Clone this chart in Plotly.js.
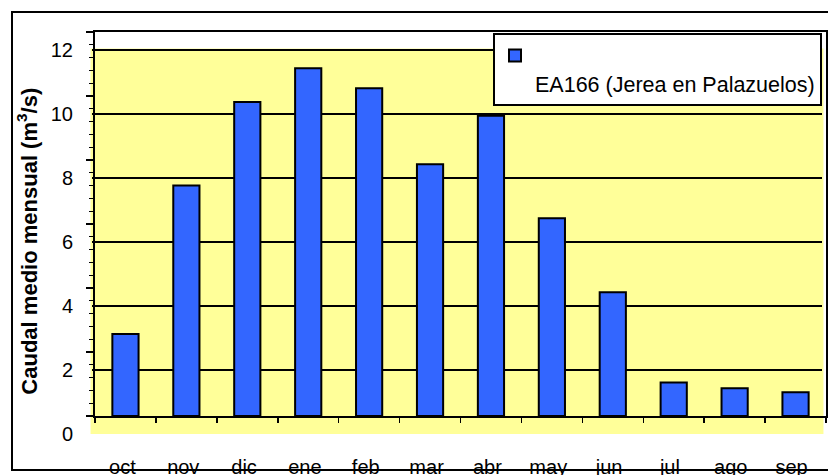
<!DOCTYPE html>
<html><head><meta charset="utf-8">
<script src="https://cdn.plot.ly/plotly-3.0.1.min.js"></script>
<style>html,body{margin:0;padding:0;background:#fff}</style>
</head><body><div id="chart" style="width:828px;height:475px"></div>
<script>
// ---- data ----
const months = ['oct','nov','dic','ene','feb','mar','abr','may','jun','jul','ago','sep'];
const caudal = [2.56, 7.2, 9.81, 10.87, 10.24, 7.87, 9.38, 6.18, 3.87, 1.05, 0.87, 0.74];
const seriesName = 'EA166 (Jerea en Palazuelos)';
const yTickVals = [0, 2, 4, 6, 8, 10, 12];
const yTitle = 'Caudal medio mensual (m<sup>3</sup>/s)';

// ---- layout helpers (pixel -> paper fraction) ----
const W = 828, H = 475;
const fx = x => x / W;
const fy = y => (H - y) / H;
const FONT = 'Liberation Sans, Arial, sans-serif';

const bars = {
  type: 'bar',
  x: months,
  y: caudal,
  name: '<br>' + seriesName,
  xaxis: 'x2', yaxis: 'y2',
  marker: {color: '#3366FF', line: {color: '#000000', width: 2}},
  showlegend: true
};
// empty helper trace so that the label / grid axes (x, y) exist
const axisHolder = {
  type: 'scatter', mode: 'markers', x: [null], y: [null],
  xaxis: 'x', yaxis: 'y', showlegend: false, hoverinfo: 'skip'
};

const layout = {
  width: W, height: H,
  margin: {l: 0, r: 0, t: 0, b: 0, pad: 0},
  paper_bgcolor: '#ffffff',
  plot_bgcolor: 'rgba(0,0,0,0)',
  font: {family: FONT, size: 20, color: '#000'},
  bargap: 0.57,
  showlegend: true,
  // label / grid group
  xaxis: {
    domain: [fx(92), fx(822)],
    range: [-0.5, 11.5],
    tickmode: 'array',
    tickvals: months.map((m, i) => i),
    ticktext: months,
    ticks: 'outside', ticklen: 15, tickcolor: 'rgba(0,0,0,0)',
    showgrid: false, zeroline: false, showline: false,
    tickfont: {family: FONT, size: 20, color: '#000'},
    anchor: 'y', fixedrange: true
  },
  yaxis: {
    domain: [fy(434), fy(48.4)],
    range: [0, 12.05],
    tickmode: 'array',
    tickvals: yTickVals,
    ticks: 'outside', ticklen: 14, tickcolor: 'rgba(0,0,0,0)',
    showgrid: true, gridcolor: '#000000', gridwidth: 1.5,
    zeroline: false, showline: false,
    tickfont: {family: FONT, size: 20, color: '#000'},
    title: {text: yTitle, font: {family: FONT, size: 22, color: '#000', weight: 'bold'}, standoff: 7},
    anchor: 'x', fixedrange: true
  },
  // bar / tick group
  xaxis2: {
    domain: [fx(95), fx(826)],
    type: 'category',
    range: [-0.5, 11.5],
    tickson: 'boundaries',
    ticks: 'outside', ticklen: 5, tickwidth: 1.5, tickcolor: '#000',
    showticklabels: false,
    showline: true, linecolor: '#000', linewidth: 2, mirror: true,
    showgrid: false, zeroline: false,
    anchor: 'y2', fixedrange: true
  },
  yaxis2: {
    domain: [fy(416), fy(32)],
    range: [0, 12],
    dtick: 2,
    ticks: 'outside', ticklen: 7, tickwidth: 1.5, tickcolor: '#000',
    minor: {dtick: 0.4, ticks: 'outside', ticklen: 4, tickwidth: 1, tickcolor: '#000'},
    showticklabels: false,
    showline: true, linecolor: '#000', linewidth: 2, mirror: true,
    showgrid: false, zeroline: false,
    anchor: 'x2', fixedrange: true
  },
  legend: {
    x: fx(493), xanchor: 'left',
    y: fy(33), yanchor: 'top',
    bgcolor: '#ffffff', bordercolor: '#000000', borderwidth: 2,
    font: {family: FONT, size: 21.5, color: '#000'},
    valign: 'top',
    itemwidth: 30
  },
  shapes: [
    {type: 'rect', xref: 'x domain', yref: 'y domain', x0: -0.002, x1: 1.002, y0: 0, y1: 1,
     fillcolor: '#FFFF99', line: {width: 0}, layer: 'below'},
    {type: 'rect', xref: 'paper', yref: 'paper', x0: fx(12), x1: fx(840), y0: fy(470), y1: fy(12),
     fillcolor: 'rgba(0,0,0,0)', line: {color: '#000', width: 2}, layer: 'above'}
  ]
};

Plotly.newPlot('chart', [axisHolder, bars], layout, {displayModeBar: false, staticPlot: true});
</script>
</body></html>
